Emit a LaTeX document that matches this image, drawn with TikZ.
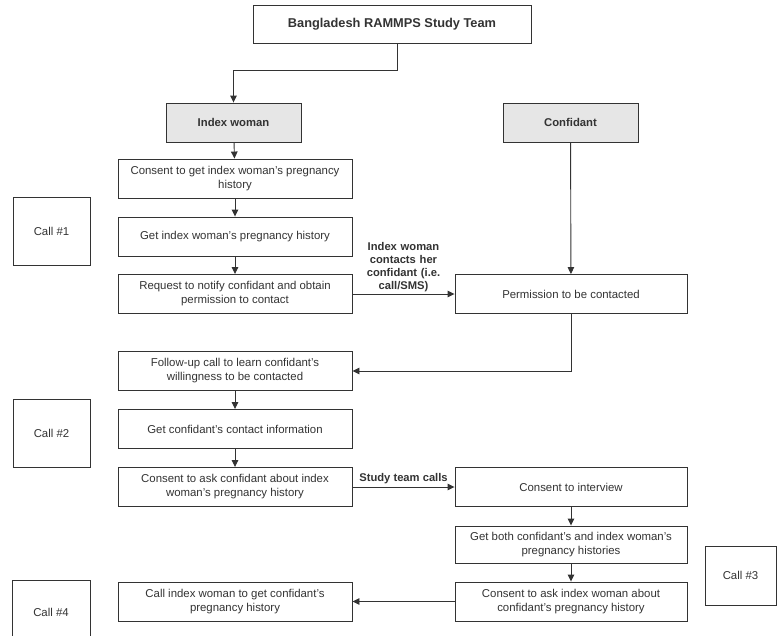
\documentclass[tikz,border=0pt]{standalone}
\usepackage{fontspec}
\setmainfont{Liberation Sans}
\usetikzlibrary{arrows.meta}
\definecolor{txt}{HTML}{333333}
\definecolor{hdr}{HTML}{E6E6E6}
\begin{document}
\begin{tikzpicture}[x=1pt,y=-1pt,
  box/.style={draw=txt, line width=0.9pt, fill=white, minimum width=234pt, minimum height=39pt, align=center, text=txt, font=\fontsize{11.4}{14}\selectfont, inner sep=1pt},
  hbox/.style={box, fill=hdr, minimum width=135pt, font=\bfseries\fontsize{11.3}{13.5}\selectfont},
  callbox/.style={draw=txt, line width=0.9pt, minimum width=77pt, minimum height=68pt, text=txt, font=\fontsize{11.4}{13}\selectfont},
  arr/.style={draw=txt, line width=0.9pt, -{Triangle[length=7pt,width=6.5pt]}},
  lbl/.style={align=center, text=txt, font=\bfseries\fontsize{11.2}{13}\selectfont, inner sep=1.5pt}]
\useasboundingbox (0,0) rectangle (777,635);
\fill[white] (0,0) rectangle (777,635);

\node[box, minimum width=278pt, minimum height=38pt, font=\bfseries\fontsize{12.8}{15}\selectfont] (top) at (392,24) {Bangladesh RAMMPS Study Team};
\node[hbox] (idx) at (233.5,122.5) {Index woman};
\node[hbox] (conf) at (570.5,122.5) {Confidant};

\node[box] (c1) at (235,178.5) {Consent to get index woman's pregnancy\\history};
\node[box] (c2) at (235,236.5) {Get index woman's pregnancy history};
\node[box] (c3) at (235,294) {Request to notify confidant and obtain\\permission to contact};
\node[box, minimum width=232pt] (perm) at (571,294) {Permission to be contacted};
\node[box] (fu) at (235,371) {Follow-up call to learn confidant's\\willingness to be contacted};
\node[box] (gc) at (235,429) {Get confidant's contact information};
\node[box] (ca) at (235,487) {Consent to ask confidant about index\\woman's pregnancy history};
\node[box, minimum width=232pt] (ci) at (571,487) {Consent to interview};
\node[box, minimum width=232pt, minimum height=37pt] (gb) at (571,544.5) {Get both confidant's and index woman's\\pregnancy histories};
\node[box, minimum width=232pt] (cai) at (571,601.5) {Consent to ask index woman about\\confidant's pregnancy history};
\node[box] (cw) at (235,601.5) {Call index woman to get confidant's\\pregnancy history};

\node[callbox] (call1) at (51.5,231) {Call \#1};
\node[callbox] (call2) at (51.5,433) {Call \#2};
\node[callbox, minimum width=71pt, minimum height=59pt] (call3) at (740.5,575.5) {Call \#3};
\node[callbox, minimum width=78pt, minimum height=64pt] (call4) at (51,612) {Call \#4};

\coordinate (tj) at (397,70);
\draw[arr] (top.south -| tj) -- (tj) -| (idx.north);
\draw[arr] (idx) -- (c1);
\draw[arr] (c1) -- (c2);
\draw[arr] (c2) -- (c3);
\draw[arr] (conf) -- (perm);
\draw[arr] (c3) -- node[lbl, above=0.5pt, text width=95pt] {Index woman\\contacts her\\confidant (i.e.\\call/SMS)} (perm);
\draw[arr] (perm.south) |- (fu.east);
\draw[arr] (fu) -- (gc);
\draw[arr] (gc) -- (ca);
\draw[arr] (ca) -- node[lbl, above=1pt] {Study team calls} (ci);
\draw[arr] (ci) -- (gb);
\draw[arr] (gb) -- (cai);
\draw[arr] (cai) -- (cw);
\end{tikzpicture}
\end{document}
